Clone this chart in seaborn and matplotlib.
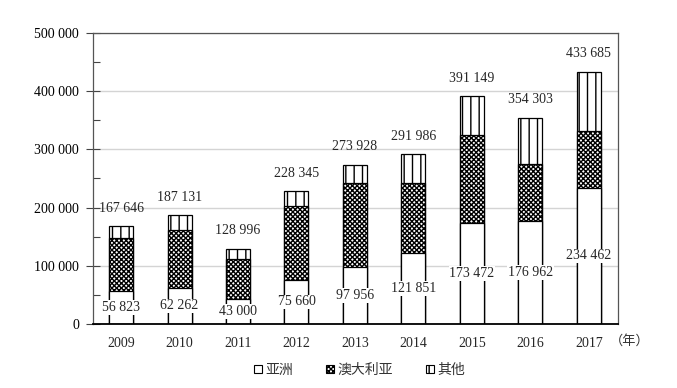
import numpy as np
import pandas as pd
import matplotlib
matplotlib.use("Agg")
import matplotlib.pyplot as plt
import seaborn as sns
from matplotlib.patches import Patch
from matplotlib.ticker import MultipleLocator

years = ["2009", "2010", "2011", "2012", "2013", "2014", "2015", "2016", "2017"]
asia = [56823, 62262, 43000, 75660, 97956, 121851, 173472, 176962, 234462]
australia = [91000, 99000, 68700, 127600, 143800, 119900, 151300, 97500, 96600]
total = [167646, 187131, 128996, 228345, 273928, 291986, 391149, 354303, 433685]
legend_labels = ["亚洲", "澳大利亚", "其他"]

df = pd.DataFrame({"year": years, "asia": asia, "australia": australia, "total": total})
df["asia_aus"] = df["asia"] + df["australia"]

sns.set_style("white")
plt.rcParams["font.family"] = ["Liberation Serif", "Noto Sans CJK SC"]
plt.rcParams["hatch.linewidth"] = 1.0

fig = plt.figure(figsize=(6.77, 3.88), dpi=100)
ax = fig.add_axes([0.1374, 0.1649, 0.7755, 0.7501])

bw = 0.41
kw = dict(order=years, width=bw, saturation=1, edgecolor="black", linewidth=0.9, ax=ax)
# draw from top segment down so lower bars cover upper ones
sns.barplot(data=df, x="year", y="total", color="white", hatch="||", **kw)
sns.barplot(data=df, x="year", y="asia_aus", color="white", hatch="xxxxxxx", **kw)
sns.barplot(data=df, x="year", y="asia", color="white", **kw)

ax.set_xlim(-0.48, 8.5)
ax.set_ylim(0, 500000)
ax.yaxis.set_major_locator(MultipleLocator(100000))
ax.yaxis.set_minor_locator(MultipleLocator(50000))
ax.set_yticklabels([f"{int(v):,}".replace(",", " ") for v in ax.get_yticks()])
ax.grid(axis="y", color="#d4d4d4", linewidth=1.0)
ax.set_axisbelow(True)
ax.tick_params(axis="y", which="major", direction="inout", length=10, width=0.8,
               colors="#444444", labelcolor="black", labelsize=10, pad=5, left=True)
ax.tick_params(axis="y", which="minor", direction="in", length=5, width=0.8,
               colors="#444444", left=True)
ax.tick_params(axis="x", length=0, labelsize=10, pad=9)
ax.set_xlabel("")
ax.set_ylabel("")
for s in ["top", "right", "left"]:
    ax.spines[s].set_color("#555555")
    ax.spines[s].set_linewidth(0.9)
ax.spines["bottom"].set_color("black")
ax.spines["bottom"].set_linewidth(1.3)

for i, (t, a) in enumerate(zip(total, asia)):
    ax.annotate(f"{t:,}".replace(",", " "), (i, t), xytext=(0, 13), textcoords="offset points",
                ha="center", va="center", fontsize=10)
    ax.text(i, a / 2, f"{a:,}".replace(",", " "), ha="center", va="center", fontsize=10,
            bbox=dict(facecolor="white", edgecolor="none", pad=0.5))

ax.text(610 / 677, 1 - 341 / 388, "（年）", transform=fig.transFigure, ha="left", va="center",
        fontsize=9.5, color="#333333", family=["Noto Sans CJK SC"])

handles = [Patch(facecolor="white", edgecolor="black", linewidth=0.8),
           Patch(facecolor="white", edgecolor="black", hatch="xxxxxxx", linewidth=0.8),
           Patch(facecolor="white", edgecolor="black", hatch="||", linewidth=0.8)]
leg = fig.legend(handles, legend_labels, loc="center", bbox_to_anchor=(0.531, 0.046), ncol=3,
                 frameon=False, fontsize=10, handlelength=0.55, handleheight=0.55,
                 handletextpad=0.25, columnspacing=2.4)
for t in leg.get_texts():
    t.set_color("#333333")

fig.savefig("out.png", dpi=100)
